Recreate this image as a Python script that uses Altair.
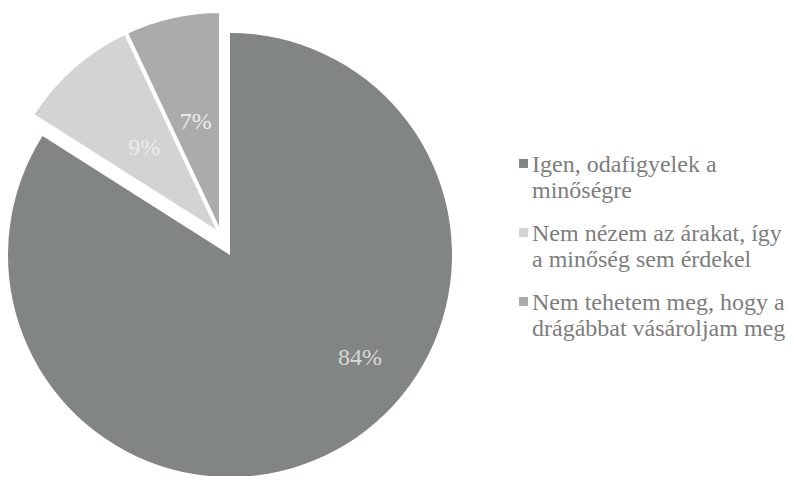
import altair as alt
import pandas as pd

categories = [
    "Igen, odafigyelek a\nminőségre",
    "Nem nézem az árakat, így\na minőség sem érdekel",
    "Nem tehetem meg, hogy a\ndrágábbat vásároljam meg",
]
values = [84, 9, 7]
pct_labels = ["84%", "9%", "7%"]
slice_order = [0, 1, 2]
exploded = [0, 1, 1]

colors = ["#818584", "#d2d3d2", "#aaacab"]

df = pd.DataFrame({
    "cat": categories,
    "value": values,
    "label": pct_labels,
    "ord": slice_order,
    "grp": exploded,
})

FONT = "Times New Roman, Liberation Serif, Times, serif"

color_enc = alt.Color(
    "cat:N",
    sort=categories,
    scale=alt.Scale(domain=categories, range=colors),
    legend=alt.Legend(
        title=None,
        orient="none",
        legendX=500,
        legendY=152,
        labelExpr="split(datum.label, '\\n')",
        labelFont=FONT,
        labelFontSize=24,
        labelColor="#7d7d7d",
        labelLimit=400,
        labelOffset=0,
        labelBaseline="alphabetic",
        symbolType="M-0.22,-2.9H1.78V-0.9H-0.22Z",
        symbolSize=81,
        symbolStrokeWidth=0,
        symbolOpacity=1,
        rowPadding=19,
    ),
)

base = alt.Chart(df).encode(
    theta=alt.Theta("value:Q", stack=True),
    order=alt.Order("ord:Q"),
)

big_cx, big_cy = 222, 247
small_cx, small_cy = 213, 227

big_arc = base.mark_arc(outerRadius=222, strokeWidth=0).encode(
    x=alt.value(big_cx),
    y=alt.value(big_cy),
    color=color_enc,
    opacity=alt.when("datum.grp == 0").then(alt.value(1)).otherwise(alt.value(0)),
)

small_arc = base.mark_arc(outerRadius=224, stroke="white", strokeWidth=4).encode(
    x=alt.value(small_cx),
    y=alt.value(small_cy),
    color=color_enc,
    opacity=alt.when("datum.grp == 1").then(alt.value(1)).otherwise(alt.value(0)),
)

big_text = base.mark_text(
    radius=166, dx=50, dy=-42, font=FONT, fontSize=24, align="center", baseline="middle"
).encode(
    x=alt.value(big_cx),
    y=alt.value(big_cy),
    text="label:N",
    color=alt.value("#d8d8d8"),
    opacity=alt.when("datum.grp == 0").then(alt.value(1)).otherwise(alt.value(0)),
)

small_text = base.mark_text(
    radius=116, font=FONT, fontSize=24, align="center", baseline="middle"
).encode(
    x=alt.value(small_cx),
    y=alt.value(small_cy),
    text="label:N",
    color=alt.value("#ececec"),
    opacity=alt.when("datum.grp == 1").then(alt.value(1)).otherwise(alt.value(0)),
)

chart = alt.layer(big_arc, small_arc, big_text, small_text).properties(
    width=778,
    height=468,
    padding=0,
    autosize=alt.AutoSizeParams(type="none"),
    background="white",
).configure_view(stroke=None)

chart.save("out.html", embed_options={"renderer": "svg", "actions": False})
